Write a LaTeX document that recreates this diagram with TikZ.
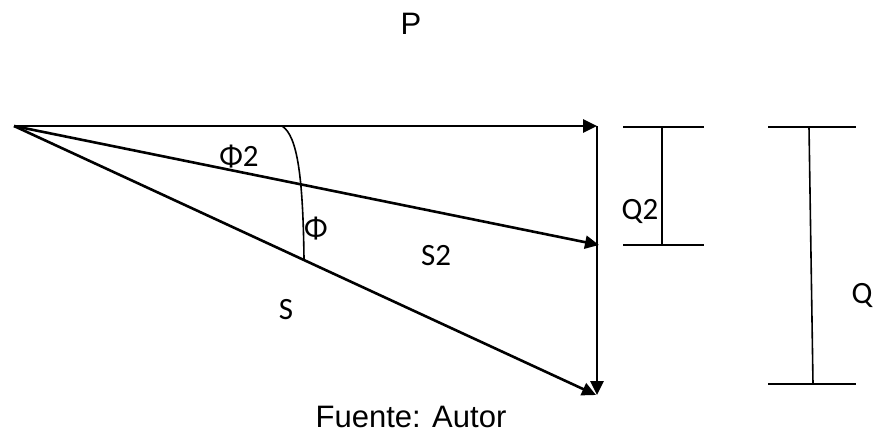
\documentclass[tikz,border=0pt]{standalone}
\usepackage{fontspec}
\setmainfont{Liberation Sans}
\newfontfamily\calib{Carlito}
\usetikzlibrary{arrows.meta}
\begin{document}
\begin{tikzpicture}[x=1pt,y=-1pt,
  vec/.style={line width=2.6pt,-{Triangle[length=14pt,width=13pt]}},
  thin line/.style={line width=1.6pt},
  lab/.style={font=\calib\fontsize{31}{31}\selectfont,inner sep=0pt},
  arial/.style={font=\fontsize{31}{31}\selectfont,inner sep=0pt}]
\useasboundingbox (0,0) rectangle (878,434);
\coordinate (O) at (14,126);
\coordinate (P) at (597,126);
\coordinate (M) at (599,245);
\coordinate (B) at (596,395);
\coordinate (V) at (597,395);
\coordinate (A1) at (282,126);
\coordinate (A2) at (304,259);
% vectors
\draw[vec] (O) -- (P);
\draw[vec] (O) -- (M);
\draw[vec] (O) -- (B);
\draw[vec] (P) -- (V);
% angle arc
\draw[thin line] (A1) .. controls (298,136) and (303,180) .. (A2);
% Q2 bracket
\coordinate (q2a) at (623,127);
\coordinate (q2b) at (704,127);
\coordinate (q2c) at (623,245);
\coordinate (q2d) at (704,245);
\coordinate (q2t) at (662,127);
\coordinate (q2u) at (662,245);
\draw[thin line] (q2a) -- (q2b);
\draw[thin line] (q2c) -- (q2d);
\draw[thin line] (q2t) -- (q2u);
% Q bracket
\coordinate (qa) at (768,127);
\coordinate (qb) at (856,127);
\coordinate (qc) at (768,384);
\coordinate (qd) at (856,384);
\coordinate (qt) at (809,127);
\coordinate (qu) at (813,384);
\draw[thin line] (qa) -- (qb);
\draw[thin line] (qc) -- (qd);
\draw[thin line] (qt) -- (qu);
% labels
\node[arial] (lP) at (411,24) {P};
\node[lab] (lphi2) at (239,157) {Φ2};
\node[lab] (lphi) at (316,229) {Φ};
\node[lab] (lS2) at (436,256) {S2};
\node[lab] (lS) at (286,310) {S};
\node[lab] (lQ2) at (640,211) {Q2};
\node[lab] (lQ) at (862,295) {Q};
\node[arial] (src) at (411,417) {Fuente: Autor};
\end{tikzpicture}
\end{document}
